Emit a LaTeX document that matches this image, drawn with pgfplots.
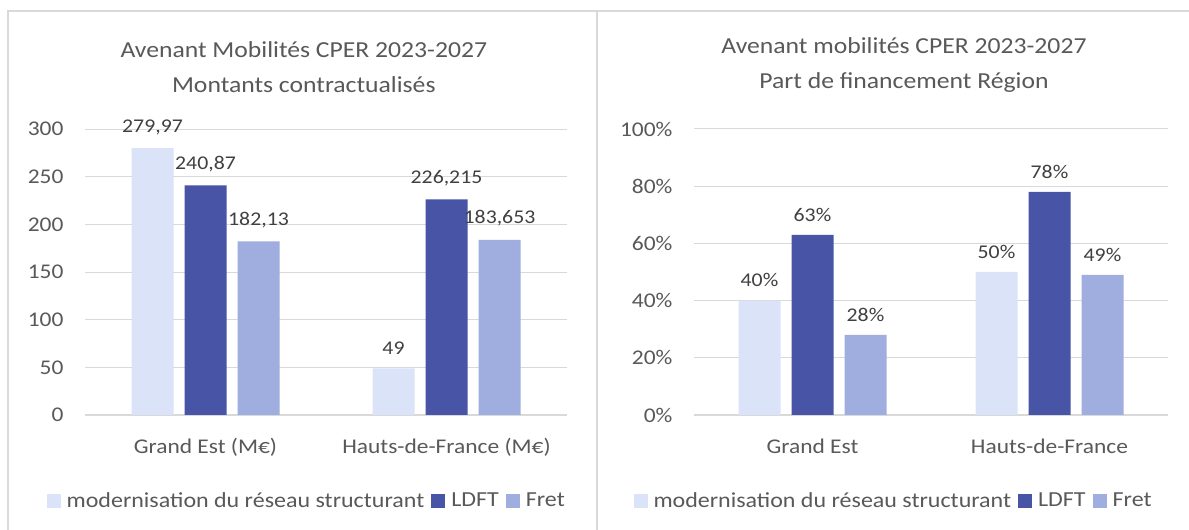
\documentclass[border=0pt]{standalone}
\usepackage{pgfplots}
\pgfplotsset{compat=1.18}
\usepackage{fontspec}
\setmainfont[FakeStretch=1.12]{Carlito}
\definecolor{cLight}{HTML}{DAE3F8}
\definecolor{cDark}{HTML}{4854A6}
\definecolor{cMed}{HTML}{9FADDF}
\definecolor{txt}{HTML}{595959}
\definecolor{lbl}{HTML}{404040}
\definecolor{grd}{HTML}{D9D9D9}
\pgfplotsset{
  mybar/.style={
    scale only axis,
    ybar=11bp, bar width=42bp,
    xmin=-0.5, xmax=1.5, ymin=0,
    axis lines*=left,
    y axis line style={draw=none},
    x axis line style={grd, line width=1.5bp, -},
    major tick length=0pt,
    ymajorgrids, grid style={grd, line width=1bp},
    xtick={0,1},
    ticklabel style={text=txt, font=\fontsize{21}{24}\selectfont},
    /pgf/number format/assume math mode=true,
    yticklabel style={xshift=-18bp},
    xticklabel style={yshift=-20bp},
    title style={text=txt, font=\fontsize{23}{35}\selectfont, align=center, anchor=south},
    nodes near coords, point meta=explicit symbolic,
    nodes near coords style={font=\fontsize{19.5}{22}\selectfont, text=lbl, anchor=south, yshift=10bp},
    legend columns=3,
    legend style={draw=none, font=\fontsize{21.5}{24}\selectfont, text=txt, anchor=center,
      /tikz/every odd column/.append style={column sep=4bp},
      /tikz/every even column/.append style={column sep=5bp}},
    legend image code/.code={\fill[##1, draw=none] (0bp,-7bp) rectangle (14bp,7bp);},
  }
}
\begin{document}
\begin{tikzpicture}
\useasboundingbox (0bp,0bp) rectangle (1189bp,530bp);
\fill[white] (0bp,0bp) rectangle (1189bp,530bp);
\draw[grd, line width=2bp] (8bp,-2bp) -- (8bp,519bp) -- (1191bp,519bp);
\draw[grd, line width=2bp] (597bp,-2bp) -- (597bp,519bp);

\begin{axis}[mybar, at={(85bp,115bp)}, anchor=south west, width=482bp, height=286bp,
  ymax=300, ytick={0,50,...,300},
  xticklabels={Grand Est (M€), Hauts-de-France (M€)},
  title={Avenant Mobilités CPER 2023-2027\\Montants contractualisés},
  title style={at={(0.454,1)}, yshift=27bp},
  legend style={at={(0.46,-0.30)}}]
\addplot[fill=cLight, draw=none] coordinates {(0,279.97) [279,97] (1,49) [49]};
\addplot[fill=cDark, draw=none] coordinates {(0,240.87) [240,87] (1,226.215) [226,215]};
\addplot[fill=cMed, draw=none] coordinates {(0,182.13) [182,13] (1,183.653) [183,653]};
\legend{modernisation du réseau structurant, LDFT, Fret}
\end{axis}

\begin{axis}[mybar, at={(694bp,115bp)}, anchor=south west, width=474bp, height=286bp,
  ymax=100, ytick={0,20,...,100},
  yticklabel={\pgfmathprintnumber{\tick}\%},
  xticklabels={Grand Est, Hauts-de-France},
  title={Avenant mobilités CPER 2023-2027\\Part de financement Région},
  title style={at={(0.443,1)}, yshift=27bp},
  legend style={at={(0.421,-0.30)}}]
\addplot[fill=cLight, draw=none] coordinates {(0,40) [40\%] (1,50) [50\%]};
\addplot[fill=cDark, draw=none] coordinates {(0,63) [63\%] (1,78) [78\%]};
\addplot[fill=cMed, draw=none] coordinates {(0,28) [28\%] (1,49) [49\%]};
\legend{modernisation du réseau structurant, LDFT, Fret}
\end{axis}
\end{tikzpicture}
\end{document}
